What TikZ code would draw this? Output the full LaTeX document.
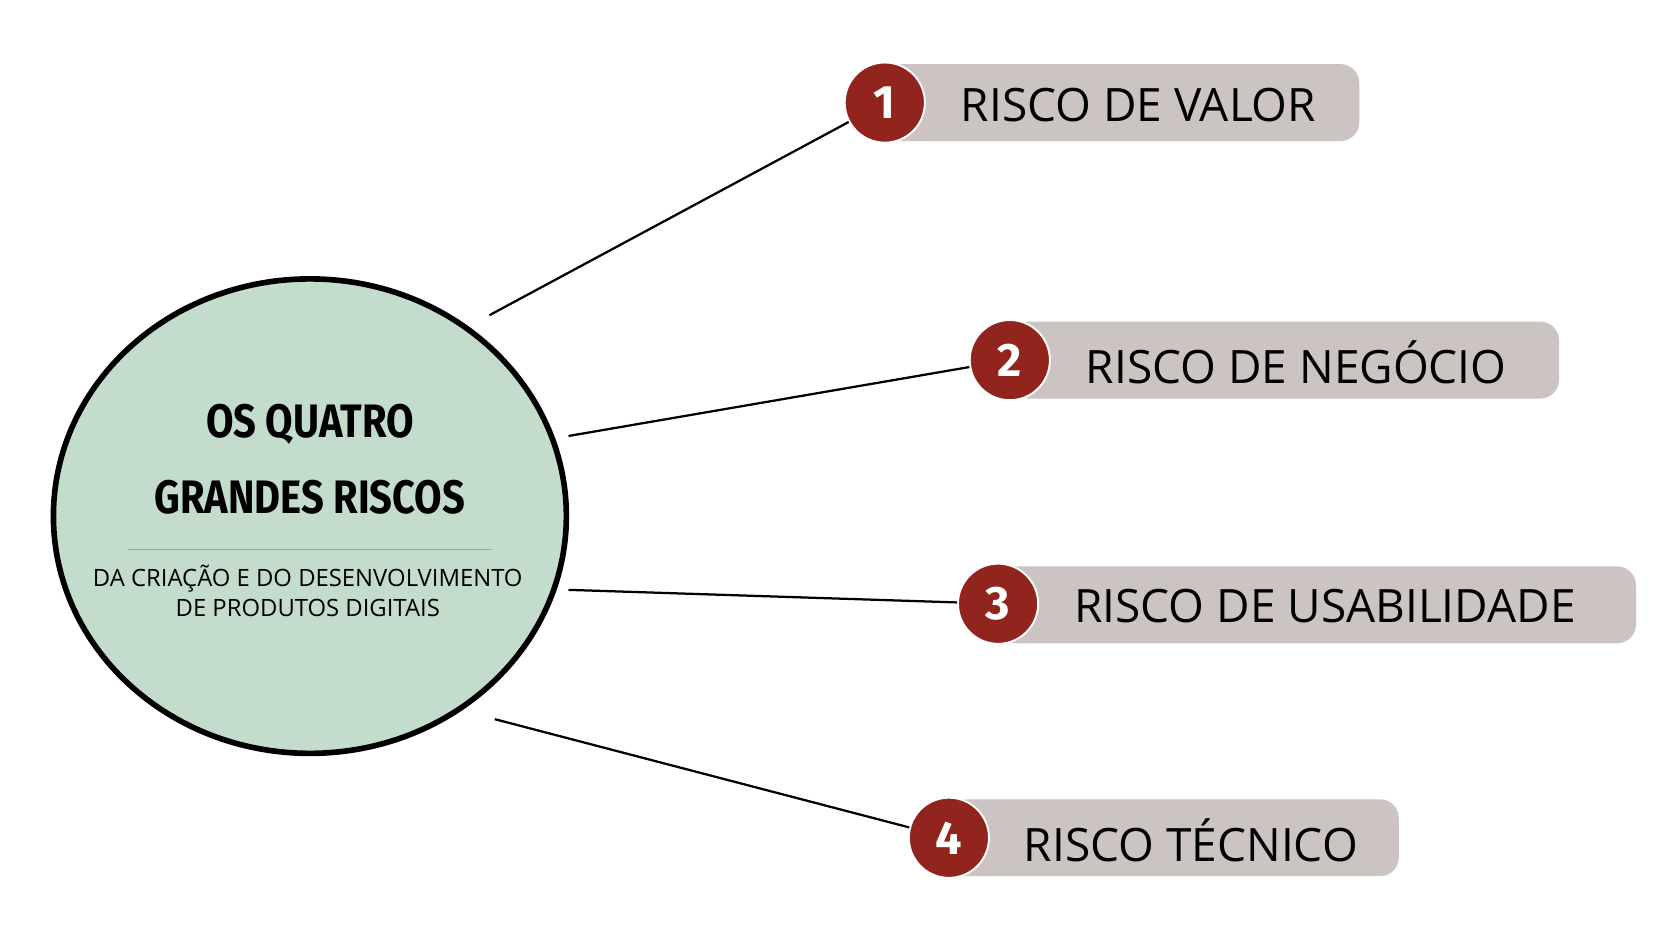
\documentclass[tikz,border=0pt]{standalone}
\usepackage{fontspec}
\setmainfont{Open Sans}
\newfontfamily\headfont{Fira Sans}
\usetikzlibrary{positioning}
\definecolor{risk_red}{RGB}{146,36,30}
\definecolor{risk_grey}{RGB}{204,196,195}
\definecolor{core_green}{RGB}{196,220,204}

\begin{document}
\begin{tikzpicture}[x=0.02cm, y=-0.02cm,
    badge/.style={circle, fill=risk_red, draw=white, line width=1pt, minimum size=1.5cm, text=white, font=\headfont\bfseries\fontsize{25}{27}\selectfont},
    risktext/.style={anchor=west, font=\fontsize{24.5}{27}\selectfont},
    link/.style={black, line width=1.2pt}]
    \useasboundingbox (0,0) rectangle (1560,868);

    % centre
    \draw[line width=3pt, fill=core_green] (290,483) ellipse (240 and 222);
    \node[font=\headfont\bfseries\fontsize{25}{28}\selectfont, xscale=0.85] (t1) at (290,397) {OS QUATRO};
    \node[font=\headfont\bfseries\fontsize{25}{28}\selectfont, xscale=0.85] (t2) at (290,465) {GRANDES RISCOS};
    \draw[gray!70, line width=0.5pt] (120,514) -- (460,514);
    \node[font=\fontsize{12.7}{15.5}\selectfont, align=center] (sub) at (288,553) {DA CRIAÇÃO E DO DESENVOLVIMENTO\\DE PRODUTOS DIGITAIS};

    % risks
    \fill[risk_grey, rounded corners=10pt] (828,60) rectangle (1272,132);
    \fill[risk_grey, rounded corners=10pt] (945,301) rectangle (1459,373);
    \fill[risk_grey, rounded corners=10pt] (934,530) rectangle (1531,602);
    \fill[risk_grey, rounded corners=10pt] (888,748) rectangle (1309,820);

    \coordinate (c1) at (458,295);
    \coordinate (c2) at (532,408);
    \coordinate (c3) at (532,552);
    \coordinate (c4) at (463,673);

    \node[badge] (b1) at (828,96) {1};
    \node[badge] (b2) at (945,337) {2};
    \node[badge] (b3) at (934,565) {3};
    \node[badge] (b4) at (888,784) {4};

    \node[risktext] (r1) at (893,98) {RISCO DE VALOR};
    \node[risktext] (r2) at (1010,339) {RISCO DE NEGÓCIO};
    \node[risktext] (r3) at (999,567) {RISCO DE USABILIDADE};
    \node[risktext] (r4) at (952,786) {RISCO TÉCNICO};

    \draw[link] (c1) -- (b1);
    \draw[link] (c2) -- (b2);
    \draw[link] (c3) -- (b3);
    \draw[link] (c4) -- (b4);
\end{tikzpicture}
\end{document}
